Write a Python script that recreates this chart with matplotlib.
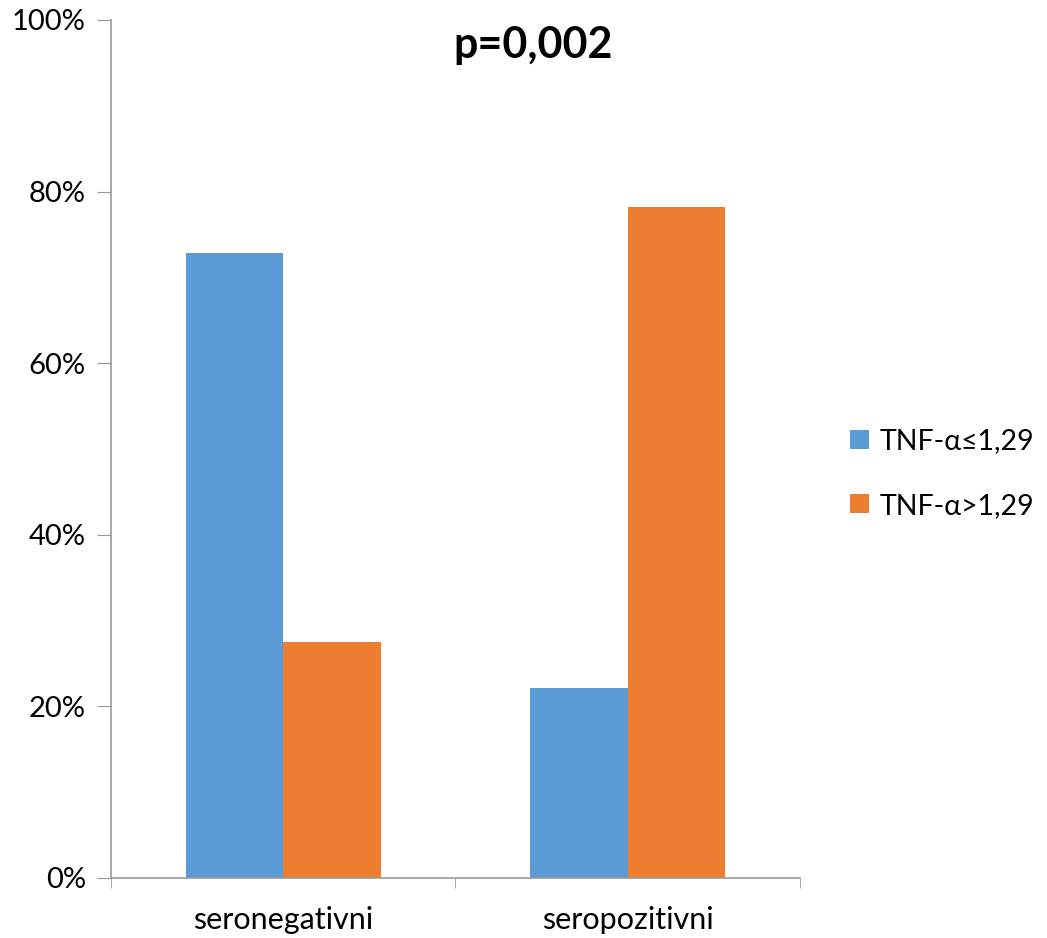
import numpy as np
import matplotlib.pyplot as plt
from matplotlib.ticker import PercentFormatter

plt.rcParams['font.family'] = ['Lato', 'DejaVu Sans']

kategorije = ['seronegativni', 'seropozitivni']
serije = ['TNF-α≤1,29', 'TNF-α>1,29']
niski = [72.8, 22.1]
visoki = [27.5, 78.2]
boje = ['#5B9BD5', '#ED7D31']

fig = plt.figure(figsize=(10.47, 9.38), dpi=100)
ax = fig.add_axes([0.106, 0.064, 0.658, 0.9147])

x = np.arange(len(kategorije))
w = 0.283
ax.bar(x - w / 2, niski, w, color=boje[0], label=serije[0])
ax.bar(x + w / 2, visoki, w, color=boje[1], label=serije[1])

ax.set_xlim(-0.5, 1.5)
ax.set_ylim(0, 100)
ax.set_yticks(np.arange(0, 101, 20))
ax.yaxis.set_major_formatter(PercentFormatter(decimals=0))
ax.set_xticks(x)
ax.set_xticklabels(kategorije)
ax.set_xticks([-0.5, 0.5, 1.5], minor=True)
ax.tick_params(axis='x', which='major', length=0, pad=20, labelsize=22)
ax.tick_params(axis='x', which='minor', length=7, color='#999999', direction='out')
ax.tick_params(axis='y', length=10, color='#999999', labelsize=21, pad=8)

for s in ['top', 'right']:
    ax.spines[s].set_visible(False)
for s in ['left', 'bottom']:
    ax.spines[s].set_color('#999999')
    ax.spines[s].set_linewidth(1.2)

fig.text(0.509, 0.952, 'p=0,002', ha='center', va='center', fontsize=31, fontweight='bold')

fig.legend(loc='center left', bbox_to_anchor=(0.812, 0.495), frameon=False, fontsize=20.5,
           borderpad=0, borderaxespad=0, handlelength=0.65, handleheight=0.65,
           handletextpad=0.4, labelspacing=1.35)

fig.savefig('out.png', dpi=100)
